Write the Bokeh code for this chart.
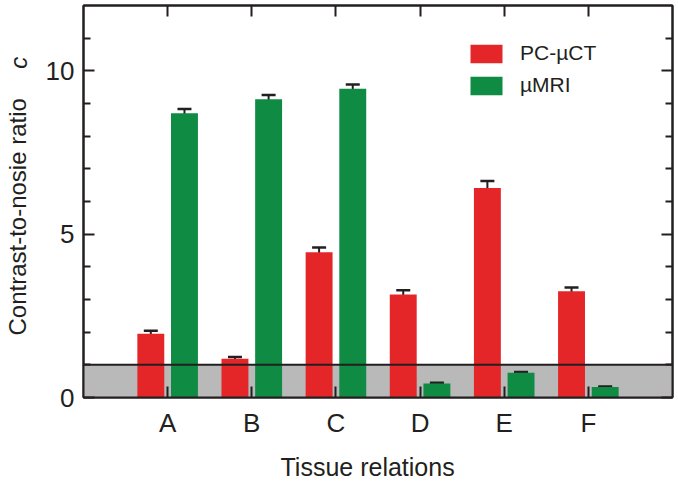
import numpy as np
from bokeh.plotting import figure
from bokeh.models import (ColumnDataSource, FixedTicker, LinearAxis, Range1d, Whisker,
                          TeeHead, BoxAnnotation, Span, Legend, LegendItem)
from bokeh.embed import file_html
from bokeh.resources import INLINE

categories = ["A", "B", "C", "D", "E", "F"]
pc_ct = [1.95, 1.19, 4.45, 3.15, 6.41, 3.25]
pc_ct_err = [0.09, 0.05, 0.14, 0.13, 0.22, 0.12]
mri = [8.70, 9.13, 9.45, 0.43, 0.76, 0.32]
mri_err = [0.13, 0.13, 0.13, 0.02, 0.02, 0.02]

RED = "#E52629"
GREEN = "#0F8B43"
INK = "#231F20"
FONT = "Liberation Sans"
NB = "\u00a0"
EM = "\u2003"

pos = np.arange(1, len(categories) + 1)
off = 0.2
bw = 0.32

src_r = ColumnDataSource(dict(x=pos - off, top=pc_ct,
                              up=np.array(pc_ct) + np.array(pc_ct_err),
                              lo=np.array(pc_ct) - np.array(pc_ct_err)))
src_g = ColumnDataSource(dict(x=pos + off, top=mri,
                              up=np.array(mri) + np.array(mri_err),
                              lo=np.array(mri) - np.array(mri_err)))

FW, FH = 589, 392
p = figure(frame_width=FW, frame_height=FH, output_backend="svg", toolbar_location=None,
           x_range=Range1d(0, 7), y_range=Range1d(0, 12),
           min_border_left=83, min_border_right=6, min_border_top=5, min_border_bottom=92,
           x_axis_location=None, y_axis_location=None)
p.grid.visible = False
p.outline_line_color = INK
p.outline_line_width = 2
p.background_fill_color = "white"
p.border_fill_color = "white"

# threshold band
p.add_layout(BoxAnnotation(bottom=0, top=1, fill_color="#B9B9BA", fill_alpha=1,
                           line_color=None, level="underlay"))

r_red = p.vbar(x="x", top="top", width=bw, bottom=0, source=src_r, fill_color=RED, line_color=None)
r_grn = p.vbar(x="x", top="top", width=bw, bottom=0, source=src_g, fill_color=GREEN, line_color=None)

p.add_layout(Span(location=1, dimension="width", line_color=INK, line_width=2))

for s in (src_r, src_g):
    w = Whisker(base="x", upper="up", lower="lo", source=s, line_color=INK, line_width=2,
                upper_head=TeeHead(size=14, line_color=INK, line_width=2.5),
                lower_head=TeeHead(size=14, line_color=INK, line_width=2.5))
    p.add_layout(w)

def style_axis(ax, labels=True):
    ax.axis_line_color = INK
    ax.axis_line_width = 2
    ax.major_tick_line_color = INK
    ax.major_tick_line_width = 2
    ax.minor_tick_line_color = INK
    ax.minor_tick_line_width = 2
    ax.major_tick_in = 11
    ax.major_tick_out = 0
    ax.minor_tick_in = 7
    ax.minor_tick_out = 0
    ax.major_label_text_font = FONT
    ax.major_label_text_color = INK if labels else None
    ax.major_label_text_font_size = "26px" if labels else "0px"
    ax.axis_label_text_font = FONT
    ax.axis_label_text_font_style = "normal"
    ax.axis_label_text_color = INK
    ax.axis_label_text_font_size = "25px"
    if not labels:
        ax.major_label_standoff = 0

xt = FixedTicker(ticks=list(pos))
yt = FixedTicker(ticks=[0, 5, 10], minor_ticks=[1, 2, 3, 4, 6, 7, 8, 9, 11])

xb = LinearAxis(ticker=xt, axis_label="Tissue relations" + NB * 3,
                major_label_overrides={int(k): c for k, c in zip(pos, categories)})
style_axis(xb)
xb.minor_tick_line_color = None
xb.major_label_standoff = 10
xb.axis_label_standoff = 12
p.add_layout(xb, "below")

xa = LinearAxis(ticker=xt)
style_axis(xa, labels=False)
xa.minor_tick_line_color = None
p.add_layout(xa, "above")

yl = LinearAxis(ticker=yt)
style_axis(yl)
yl.major_label_standoff = 9
p.add_layout(yl, "left")

yr = LinearAxis(ticker=yt)
style_axis(yr, labels=False)
p.add_layout(yr, "right")

# y-axis title: plain part and italic symbol, each carried by a bare axis
def title_axis(text, style, standoff):
    ax = LinearAxis(ticker=FixedTicker(ticks=[]), axis_label=text)
    ax.axis_line_color = None
    ax.major_tick_line_color = None
    ax.minor_tick_line_color = None
    ax.major_tick_out = 0
    ax.minor_tick_out = 0
    ax.major_tick_in = 0
    ax.minor_tick_in = 0
    ax.major_label_standoff = 0
    ax.axis_label_standoff = standoff
    ax.axis_label_text_font = FONT
    ax.axis_label_text_font_size = "24px"
    ax.axis_label_text_font_style = style
    ax.axis_label_text_color = INK
    return ax

p.add_layout(title_axis("Contrast-to-nosie ratio" + EM + NB, "normal", 12), "left")
p.add_layout(title_axis(EM * 11 + NB * 2 + "c", "italic", -31), "left")

legend = Legend(items=[LegendItem(label="PC-\u00b5CT", renderers=[r_red]),
                       LegendItem(label="\u00b5MRI", renderers=[r_grn])],
                location=(383, 300), padding=0, margin=0, spacing=8,
                glyph_width=40, glyph_height=23, label_standoff=14,
                label_text_font=FONT, label_text_font_size="21px", label_text_color=INK,
                border_line_color=None, background_fill_alpha=0)
p.add_layout(legend)

open("out.html", "w").write(file_html(p, INLINE))
